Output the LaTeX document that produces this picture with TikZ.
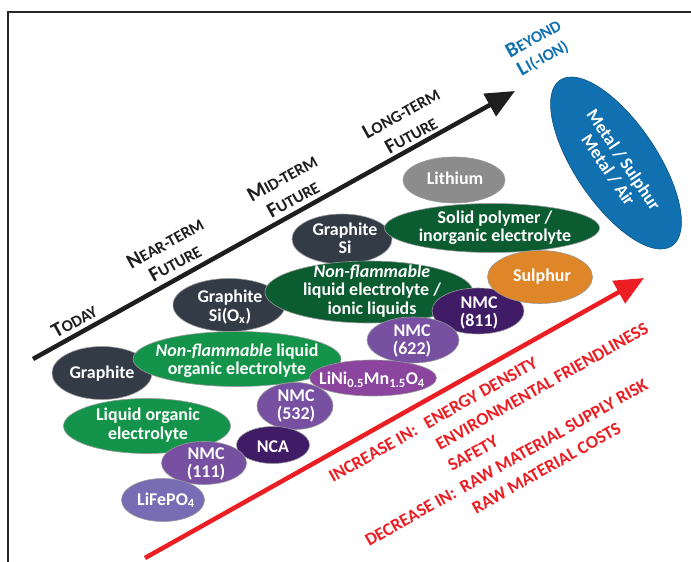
\documentclass[tikz,border=0pt]{standalone}
\usepackage{fontspec}
\setmainfont{Carlito}
\usetikzlibrary{shapes.geometric,arrows.meta}
\definecolor{cGraph}{HTML}{333B47}
\definecolor{cLith}{HTML}{8C8C8C}
\definecolor{cDkGreen}{HTML}{0C5C31}
\definecolor{cGreen}{HTML}{13944A}
\definecolor{cOrange}{HTML}{DE8628}
\definecolor{cDkPurple}{HTML}{401B66}
\definecolor{cPurple}{HTML}{7850A2}
\definecolor{cMagenta}{HTML}{8C459F}
\definecolor{cLavender}{HTML}{786CB4}
\definecolor{cBlue}{HTML}{1070B0}
\definecolor{cRed}{HTML}{EB1E24}
\definecolor{cBlack}{HTML}{1E1E1E}
\definecolor{cFrame}{HTML}{282828}
\newcommand\Lg[1]{{\fontsize{21}{22}\selectfont #1}}
\newcommand\Sm[1]{{\fontsize{16.5}{18}\selectfont #1}}
\newcommand\Bub[8]{%
  \node[bub, fill=#6, minimum width=#4bp, minimum height=#5bp] (#1) at (#2,#3) {};
  \node[bubtext] (#1-t) at #7 {#8};}
\tikzset{
  bub/.style={ellipse, draw=black!40, line width=0.6bp, inner sep=0pt, outer sep=0pt},
  bubtext/.style={text=white, font=\bfseries\fontsize{18}{18.5}\selectfont, align=center, inner sep=0pt},
  tl/.style={font=\bfseries, text=cBlack, rotate=29, inner sep=0pt},
  bl/.style={font=\bfseries, text=cBlue, rotate=29, inner sep=0pt},
  rt/.style={font=\bfseries\fontsize{18}{20}\selectfont, text=cRed, anchor=base west, inner sep=0pt},
  framestyle/.style={draw=cFrame, line width=2.5bp},
  timearrow/.style={draw=cBlack, line width=4.5bp, -{Triangle[length=29bp,width=25bp]}},
  gainarrow/.style={draw=cRed, line width=4.5bp, -{Triangle[length=29bp,width=25bp]}}
}
\begin{document}
\begin{tikzpicture}[x=1bp,y=-1bp]
\useasboundingbox[fill=white] (0,0) rectangle (691,562);
% frame
\coordinate (fr0) at (8,12);
\coordinate (fr1) at (8,562);
\coordinate (fr2) at (691,12);
\draw[framestyle] (fr1) -- (fr0) -- (fr2);
% arrows
\coordinate (bk0) at (33,359);
\coordinate (bk1) at (515,91);
\draw[timearrow] (bk0) -- (bk1);
\coordinate (rd0) at (145,558);
\coordinate (rd1) at (644,278);
\draw[gainarrow] (rd0) -- (rd1);
% timeline labels
\node[tl] (today) at (74,321) {\Lg{T}\Sm{ODAY}};
\node[tl] (near) at (165,243) {\Lg{N}\Sm{EAR-TERM}};
\node[tl] (nearf) at (175,263) {\Lg{F}\Sm{UTURE}};
\node[tl] (mid) at (282,178) {\Lg{M}\Sm{ID-TERM}};
\node[tl] (midf) at (293,199) {\Lg{F}\Sm{UTURE}};
\node[tl] (long) at (401,113) {\Lg{L}\Sm{ONG-TERM}};
\node[tl] (longf) at (411,135) {\Lg{F}\Sm{UTURE}};
\node[bl] (beyond) at (533,38) {\Lg{B}\Sm{EYOND}};
\node[bl] (liion) at (543,58) {\Lg{L}\Sm{I(-ION)}};
% bubbles
\Bub{lith}{454}{180}{102}{46}{cLith}{(455,178)}{Lithium}
\Bub{grsi}{342}{239}{100}{50}{cGraph}{(345,238)}{Graphite\\Si}
\Bub{solid}{492}{228}{215}{49}{cDkGreen}{(495,228)}{Solid polymer /\\inorganic electrolyte}
\Bub{grsiox}{229}{305}{112}{53}{cGraph}{(230,307)}{Graphite\\Si(O\textsubscript{x})}
\Bub{ionic}{369}{292}{208}{62}{cDkGreen}{(372,291)}{\textit{Non-flammable}\\liquid electrolyte /\\ionic liquids}
\Bub{nmcA}{478}{311}{92}{46}{cDkPurple}{(479,313)}{NMC\\(811)}
\Bub{sulph}{540}{277}{105}{53}{cOrange}{(542,277)}{Sulphur}
\Bub{nmcB}{413}{340}{92}{46}{cPurple}{(412,341)}{NMC\\(622)}
\Bub{graph}{102}{373}{100}{53}{cGraph}{(102,374)}{Graphite}
\Bub{nflo}{237}{359}{208}{55}{cGreen}{(237,361)}{\textit{Non-flammable} liquid\\organic electrolyte}
\Bub{nmcC}{295}{406}{76}{47}{cPurple}{(296,406)}{NMC\\(532)}
\Bub{lini}{373}{378}{127}{36}{cMagenta}{(372,380)}{LiNi\textsubscript{0.5}Mn\textsubscript{1.5}O\textsubscript{4}}
\Bub{nca}{273}{445}{73}{37}{cDkPurple}{(273,447)}{NCA}
\Bub{lqo}{147}{426}{167}{55}{cGreen}{(148,425)}{Liquid organic\\electrolyte}
\Bub{nmcD}{204}{463}{85}{43}{cPurple}{(206,464)}{NMC\\(111)}
\Bub{lfp}{163}{500}{83}{43}{cLavender}{(166,500)}{LiFePO\textsubscript{4}}
% beyond li-ion
\node[bub, fill=cBlue, draw=cBlue!75!black, minimum width=200bp, minimum height=82bp, rotate=-56] (metal) at (616,163) {};
\node[bubtext, rotate=-56] (metal-t) at (616,165) {Metal / Sulphur\\Metal / Air};
% red text block
\begin{scope}[shift={(333,483)}, rotate=29.5, transform shape]
\node[rt] (inc) at (0,0) {INCREASE IN:};
\node[rt] (inc1) at (109,0) {ENERGY DENSITY};
\node[rt] (inc2) at (109,24.5) {ENVIRONMENTAL FRIENDLINESS};
\node[rt] (inc3) at (109,49) {SAFETY};
\node[rt] (dec) at (0,73.5) {DECREASE IN:};
\node[rt] (dec1) at (109,73.5) {RAW MATERIAL SUPPLY RISK};
\node[rt] (dec2) at (109,98) {RAW MATERIAL COSTS};
\end{scope}
\end{tikzpicture}
\end{document}
